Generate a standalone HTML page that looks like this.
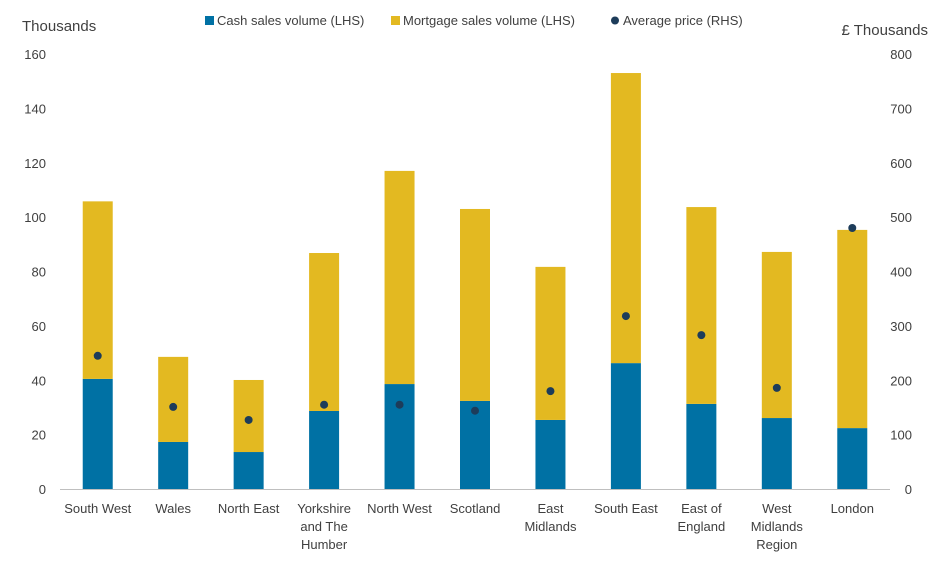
<!DOCTYPE html>
<html><head><meta charset="utf-8"><style>
body{margin:0;background:#fff;font-family:"Liberation Sans",sans-serif;}
svg text{font-family:"Liberation Sans",sans-serif;fill:#404040;}
</style></head><body>
<svg id="chart" width="942" height="564" xmlns="http://www.w3.org/2000/svg">
<text x="22" y="31" font-size="15">Thousands</text>
<text x="928" y="35" font-size="15" text-anchor="end">£ Thousands</text>
<g>
<rect x="205" y="16" width="9" height="9" fill="#0071a4"/>
<text x="217" y="25" font-size="13">Cash sales volume (LHS)</text>
<rect x="391" y="16" width="9" height="9" fill="#e3b921"/>
<text x="403" y="25" font-size="13">Mortgage sales volume (LHS)</text>
<circle cx="615" cy="20.5" r="4" fill="#1d3c5a"/>
<text x="623" y="25" font-size="13">Average price (RHS)</text>
</g>
<g id="plot"></g>
</svg>
<script>
const categories=["South West","Wales","North East","Yorkshire|and The|Humber","North West","Scotland","East|Midlands","South East","East of|England","West|Midlands|Region","London"];
const cash=[40.5,17.3,13.6,28.7,38.6,32.4,25.4,46.3,31.3,26.1,22.4];
const mortgage=[65.3,31.3,26.5,58.1,78.4,70.6,56.3,106.7,72.4,61.1,72.9];
const price=[245,151,127,155,155,144,180,318,283,186,480];
const leftTicks=[0,20,40,60,80,100,120,140,160];
const rightTicks=[0,100,200,300,400,500,600,700,800];
const NS="http://www.w3.org/2000/svg";
const g=document.getElementById('plot');
const y0=489,yTop=54,x0=60,x1=890;
const yL=v=>y0-(v/160)*(y0-yTop);
const yR=v=>y0-(v/800)*(y0-yTop);
const step=(x1-x0)/categories.length;
const xC=i=>x0+step*(i+0.5);
const bw=30;
function mk(t,a){const e=document.createElementNS(NS,t);for(const k in a)e.setAttribute(k,a[k]);g.appendChild(e);return e;}
leftTicks.forEach(v=>{const t=mk('text',{x:46,y:yL(v)+5,'font-size':13,'text-anchor':'end'});t.textContent=v;

});
rightTicks.forEach(v=>{const t=mk('text',{x:912,y:yR(v)+5,'font-size':13,'text-anchor':'end'});t.textContent=v;

});
categories.forEach((c,i)=>{
const x=xC(i);
const r1=mk('rect',{x:x-bw/2,y:yL(cash[i]),width:bw,height:y0-yL(cash[i]),fill:'#0071a4'});


const r2=mk('rect',{x:x-bw/2,y:yL(cash[i]+mortgage[i]),width:bw,height:yL(cash[i])-yL(cash[i]+mortgage[i]),fill:'#e3b921'});


const d=mk('circle',{cx:x,cy:yR(price[i]),r:4,fill:'#1d3c5a'});


c.split('|').forEach((ln,j)=>{const t=mk('text',{x:x,y:513+j*18,'font-size':13,'text-anchor':'middle'});t.textContent=ln;

});
});
const ax=mk('line',{x1:x0,x2:x1,y1:y0+0.5,y2:y0+0.5,stroke:'#bfbfbf','stroke-width':1});


</script>
</body></html>
